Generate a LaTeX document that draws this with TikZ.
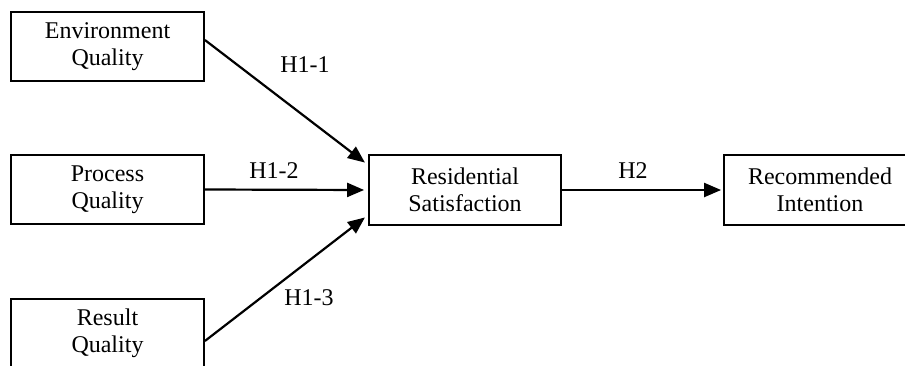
\documentclass[tikz,border=0pt]{standalone}
\usepackage{fontspec}
\setmainfont{Liberation Serif}
\usetikzlibrary{arrows.meta}
\begin{document}
\begin{tikzpicture}[x=1pt,y=-1pt,
  box/.style={draw, line width=1.8pt, minimum width=193pt, minimum height=69pt, align=center, inner sep=0pt, font=\fontsize{24}{27}\selectfont},
  arr/.style={line width=2.2pt, -{Triangle[length=17pt,width=14pt]}},
  lbl/.style={font=\fontsize{24}{27}\selectfont, inner sep=0pt, anchor=base}]
\useasboundingbox (0,0) rectangle (905,365);
\clip (0,0) rectangle (905,365);
\node[box] (env) at (107.5,46.5) {Environment\\Quality};
\node[box] (proc) at (107.5,189.5) {Process\\Quality};
\node[box] (resq) at (107.5,333.5) {Result\\Quality};
\node[box, minimum width=192pt, minimum height=70pt] (res) at (465,190) {Residential\\Satisfaction};
\node[box, minimum width=192pt, minimum height=70pt] (rec) at (820,190) {Recommended\\Intention};
\draw[arr, shorten >=4pt] ([yshift=6.5pt]env.east) -- ([yshift=25pt]res.west);
\draw[arr, shorten >=4pt] (proc.east) -- (res.west);
\draw[arr, shorten >=4pt] ([yshift=-7.5pt]resq.east) -- ([yshift=-25pt]res.west);
\draw[arr, shorten >=2pt] (res.east) -- (rec.west);
\node[lbl] (h11) at (305,72) {H1-1};
\node[lbl] (h12) at (274,178) {H1-2};
\node[lbl] (h13) at (309,305) {H1-3};
\node[lbl] (h2) at (633,178) {H2};
\end{tikzpicture}
\end{document}
